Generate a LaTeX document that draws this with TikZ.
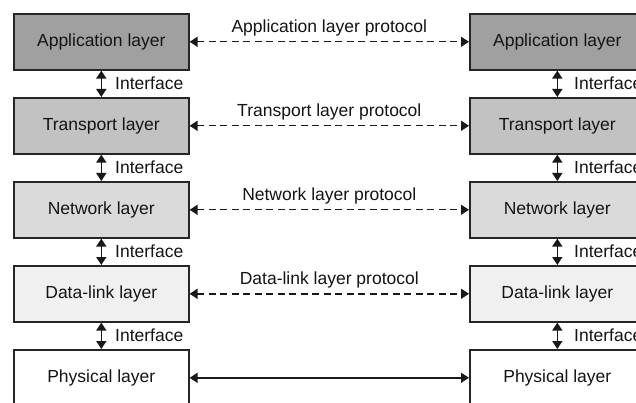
\documentclass[tikz,border=0pt]{standalone}
\usepackage{fontspec}
\setmainfont{Liberation Sans}
\usetikzlibrary{arrows.meta}
\definecolor{appc}{HTML}{A0A0A0}
\definecolor{trac}{HTML}{C2C2C2}
\definecolor{netc}{HTML}{DADADA}
\definecolor{dlc}{HTML}{F0F0F0}
\definecolor{txt}{HTML}{141414}
\begin{document}
\begin{tikzpicture}[x=1pt,y=-1pt,
  layerbox/.style={draw=black!85, line width=1.6pt, minimum width=175pt, minimum height=56pt,
    anchor=north west, inner sep=0pt, text=txt, font=\fontsize{17.5}{20}\selectfont},
  tip/.tip={Triangle[length=8pt,width=10pt]},
  iface/.style={tip-tip, line width=1.5pt, draw=black!90},
  ilabel/.style={anchor=west, inner sep=0pt, text=txt, font=\fontsize{17.5}{20}\selectfont},
  proto/.style={tip-tip, line width=1.4pt, draw=black!90, dash pattern=on 7pt off 4.5pt},
  phys/.style={tip-tip, line width=1.4pt, draw=black!90},
  plabel/.style={midway, yshift=14pt, inner sep=0pt, text=txt, font=\fontsize{17.5}{20}\selectfont}]
\useasboundingbox (0,0) rectangle (636,403);
\clip (0,0) rectangle (636,403);
\fill[white] (0,0) rectangle (636,403);
% left stack
\node[layerbox, fill=appc] (L1) at (13,13) {Application layer};
\node[layerbox, fill=trac] (L2) at (13,97) {Transport layer};
\node[layerbox, fill=netc] (L3) at (13,181) {Network layer};
\node[layerbox, fill=dlc] (L4) at (13,265) {Data-link layer};
\node[layerbox, fill=white] (L5) at (13,349) {Physical layer};
% right stack
\node[layerbox, fill=appc] (R1) at (469,13) {Application layer};
\node[layerbox, fill=trac] (R2) at (469,97) {Transport layer};
\node[layerbox, fill=netc] (R3) at (469,181) {Network layer};
\node[layerbox, fill=dlc] (R4) at (469,265) {Data-link layer};
\node[layerbox, fill=white] (R5) at (469,349) {Physical layer};
% interfaces
\foreach \a/\b/\y in {1/2/83,2/3/167,3/4/251,4/5/335}{
  \draw[iface] (L\a.south) -- (L\b.north);
  \draw[iface] (R\a.south) -- (R\b.north);
  \node[ilabel] (li\a) at (115,\y) {Interface};
  \node[ilabel] (ri\a) at (574,\y) {Interface};
}
% protocols
\draw[proto] (L1.east) -- (R1.west) node[plabel] (p1) {Application layer protocol};
\draw[proto] (L2.east) -- (R2.west) node[plabel] (p2) {Transport layer protocol};
\draw[proto] (L3.east) -- (R3.west) node[plabel] (p3) {Network layer protocol};
\draw[proto] (L4.east) -- (R4.west) node[plabel] (p4) {Data-link layer protocol};
\draw[phys] (L5.east) -- (R5.west);
\end{tikzpicture}
\end{document}
